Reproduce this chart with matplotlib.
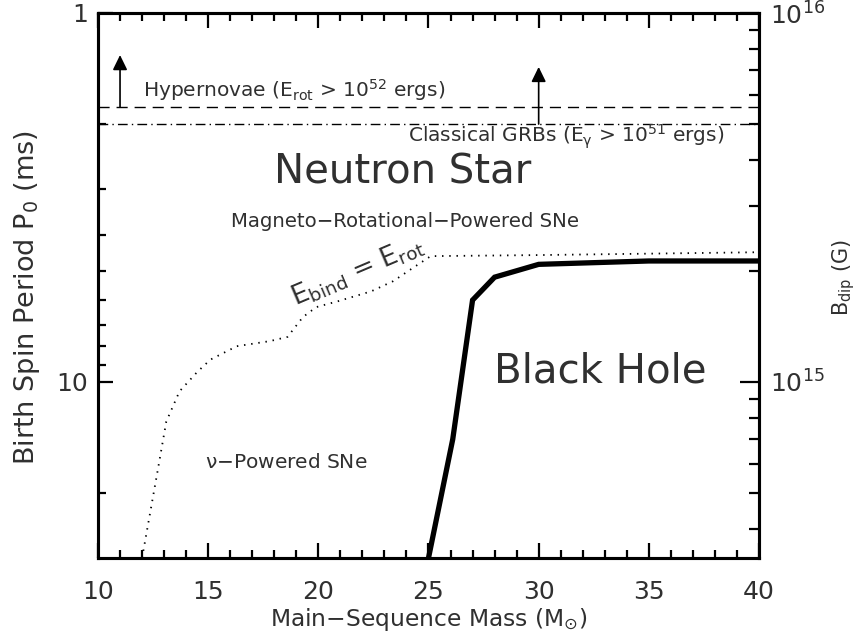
import matplotlib
matplotlib.use('Agg')
import matplotlib.pyplot as plt
from matplotlib.ticker import FixedLocator, NullFormatter, FixedFormatter, MultipleLocator, LogLocator

# Black hole / neutron star boundary
bh_mass = [25.0, 26.1, 27.0, 28.0, 30.0, 35.0, 40.0]
bh_period = [30.0, 14.3, 6.0, 5.2, 4.8, 4.7, 4.7]

# E_bind = E_rot curve
bind_mass = [12.0, 12.7, 13.1, 13.7, 14.5, 15.1, 16.3, 17.8, 18.6, 19.3, 19.9,
             20.9, 22.4, 23.4, 24.2, 25.1, 30.0, 35.0, 40.0]
bind_period = [30.0, 17.5, 12.8, 10.6, 9.4, 8.7, 8.0, 7.75, 7.55, 6.67, 6.27,
               6.04, 5.68, 5.33, 4.95, 4.56, 4.53, 4.49, 4.45]

# energy thresholds (ms)
p_hypernova = 1.8
p_grb = 2.0

x_ticks = [10, 15, 20, 25, 30, 35, 40]
p_ticks = [1, 10]
p_labels = ['1', '10']
b_ticks = [1e15, 1e16]

txt = '#303030'
plt.rcParams['font.family'] = 'DejaVu Sans'
plt.rcParams['mathtext.default'] = 'regular'

fig = plt.figure(figsize=(8.61, 6.42), dpi=100)
ax = fig.add_axes([98 / 861, 1 - 558 / 642, 661 / 861, 545 / 642])

ax.plot(bh_mass, bh_period, color='black', lw=3.8, solid_joinstyle='miter')
ax.plot(bind_mass, bind_period, color='black', lw=1.3, linestyle=(0, (0.8, 3.2)))

ax.axhline(p_hypernova, color='black', lw=1.0, linestyle=(0, (8, 5)))
ax.axhline(p_grb, color='black', lw=1.0, linestyle=(0, (7, 3, 1, 3)))

arrow = dict(arrowstyle='-|>,head_length=0.45,head_width=0.22', mutation_scale=20,
             color='black', lw=1.2, shrinkA=0, shrinkB=0)
ax.annotate('', xy=(11, 1.30), xytext=(11, p_hypernova), arrowprops=arrow)
ax.annotate('', xy=(30, 1.40), xytext=(30, p_grb), arrowprops=arrow)

ax.text(12.05, 1.69, r'Hypernovae (E$_{rot}$ > 10$^{52}$ ergs)', fontsize=14.5,
        color=txt, va='baseline')
ax.text(24.05, 2.25, r'Classical GRBs (E$_{\gamma}$ > 10$^{51}$ ergs)', fontsize=14.5,
        color=txt, va='baseline')
ax.text(23.85, 2.71, 'Neutron Star', fontsize=29, color=txt, ha='center', va='center')
ax.text(23.95, 3.67, 'Magneto−Rotational−Powered SNe', fontsize=14.2, color=txt,
        ha='center', va='center')
ax.text(21.8, 5.0, r'E$_{bind}$ = E$_{rot}$', fontsize=19, color=txt, ha='center',
        va='center', rotation=23, rotation_mode='anchor')
ax.text(32.8, 9.34, 'Black Hole', fontsize=29, color=txt, ha='center', va='center')
ax.text(18.56, 16.5, r'$\nu$−Powered SNe', fontsize=14.5, color=txt, ha='center', va='center')

ax.set_xlim(10, 40)
ax.set_yscale('log')
ax.set_ylim(30, 1)
ax.set_xticks(x_ticks)
ax.xaxis.set_minor_locator(MultipleLocator(1))
ax.yaxis.set_major_locator(FixedLocator(p_ticks))
ax.yaxis.set_major_formatter(FixedFormatter(p_labels))
ax.yaxis.set_minor_locator(FixedLocator([2, 3, 4, 5, 6, 7, 8, 9, 20]))
ax.yaxis.set_minor_formatter(NullFormatter())
ax.tick_params(which='both', direction='in', top=True, right=False, width=1.6,
               labelsize=18, labelcolor=txt)
ax.tick_params(which='major', length=11)
ax.tick_params(which='minor', length=6)
ax.tick_params(axis='x', pad=16)
ax.tick_params(axis='y', pad=7)

ax.set_xlabel(r'Main−Sequence Mass (M$_{\odot}$)', fontsize=16.8, color=txt, labelpad=1)
ax.set_ylabel(r'Birth Spin Period P$_0$ (ms)', fontsize=19.5, color=txt)
ax.yaxis.set_label_coords(-0.0847, 0.479)

# dipole field axis, B ~ 1e16 G / P
ax2 = ax.twinx()
ax2.set_yscale('log')
ax2.set_ylim(1e16 / 30, 1e16)
ax2.yaxis.set_major_locator(FixedLocator(b_ticks))
ax2.yaxis.set_minor_locator(LogLocator(base=10, subs=range(2, 10)))
ax2.yaxis.set_minor_formatter(NullFormatter())
ax2.tick_params(which='both', direction='in', width=1.6, labelsize=18, labelcolor=txt, pad=8)
ax2.tick_params(which='major', length=14)
ax2.tick_params(which='minor', length=7)
ax2.set_ylabel(r'B$_{dip}$ (G)', fontsize=15, color=txt)
ax2.yaxis.set_label_coords(1.1074, 0.514)

for a in (ax, ax2):
    for s in a.spines.values():
        s.set_linewidth(2.2)

fig.savefig('out.png', dpi=100)
